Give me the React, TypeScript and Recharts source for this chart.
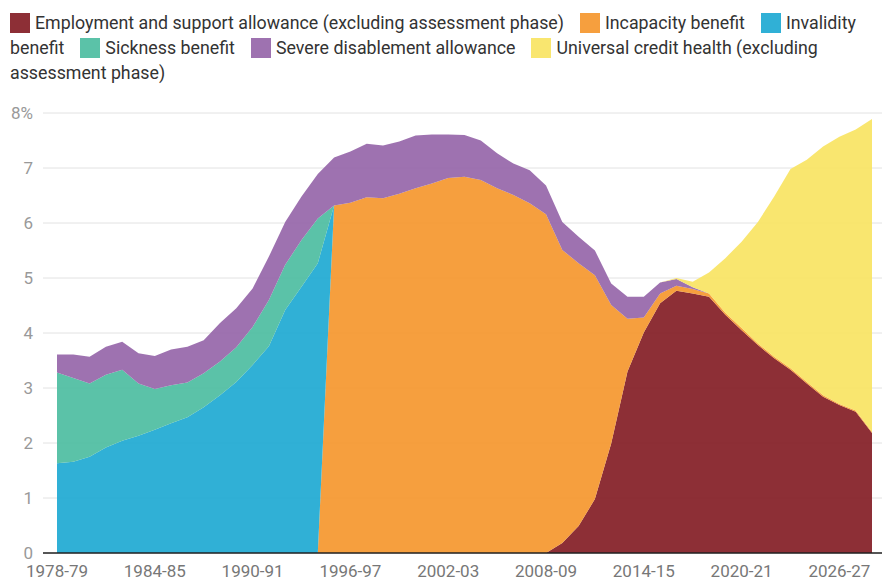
import { AreaChart, Area, XAxis, YAxis, CartesianGrid } from "recharts";

const years = [
  "1978-79", "1979-80", "1980-81", "1981-82", "1982-83", "1983-84", "1984-85", "1985-86",
  "1986-87", "1987-88", "1988-89", "1989-90", "1990-91", "1991-92", "1992-93", "1993-94",
  "1994-95", "1995-96", "1996-97", "1997-98", "1998-99", "1999-00", "2000-01", "2001-02",
  "2002-03", "2003-04", "2004-05", "2005-06", "2006-07", "2007-08", "2008-09", "2009-10",
  "2010-11", "2011-12", "2012-13", "2013-14", "2014-15", "2015-16", "2016-17", "2017-18",
  "2018-19", "2019-20", "2020-21", "2021-22", "2022-23", "2023-24", "2024-25", "2025-26",
  "2026-27", "2027-28", "2028-29",
];

const esa = [
  0, 0, 0, 0, 0, 0, 0, 0, 0, 0, 0, 0, 0, 0, 0, 0, 0, 0, 0, 0, 0, 0, 0, 0, 0, 0, 0, 0, 0, 0, 0,
  0.18, 0.49, 0.98, 1.99, 3.3, 4.01, 4.54, 4.77, 4.72, 4.66, 4.33, 4.05, 3.78, 3.54, 3.33, 3.08,
  2.84, 2.69, 2.57, 2.18,
];

const incapacity = [
  0, 0, 0, 0, 0, 0, 0, 0, 0, 0, 0, 0, 0, 0, 0, 0, 0,
  6.32, 6.37, 6.47, 6.45, 6.53, 6.63, 6.72, 6.82, 6.84, 6.78, 6.63, 6.51, 6.36, 6.16, 5.33, 4.78,
  4.07, 2.52, 0.96, 0.27, 0.18, 0.09, 0.08, 0.06, 0.04, 0.04, 0.03, 0.03, 0.03, 0.03, 0.03, 0.02,
  0.02, 0.02,
];

const invalidity = [
  1.63, 1.66, 1.75, 1.92, 2.04, 2.13, 2.24, 2.36, 2.47, 2.65, 2.87, 3.11, 3.42, 3.76, 4.42, 4.84,
  5.27, 0, 0, 0, 0, 0, 0, 0, 0, 0, 0, 0, 0, 0, 0, 0, 0, 0, 0, 0, 0, 0, 0, 0, 0, 0, 0, 0, 0, 0, 0,
  0, 0, 0, 0,
];

const sickness = [
  1.65, 1.52, 1.33, 1.32, 1.29, 0.95, 0.74, 0.69, 0.63, 0.62, 0.61, 0.63, 0.69, 0.84, 0.82, 0.85,
  0.81, 0, 0, 0, 0, 0, 0, 0, 0, 0, 0, 0, 0, 0, 0, 0, 0, 0, 0, 0, 0, 0, 0, 0, 0, 0, 0, 0, 0, 0, 0,
  0, 0, 0, 0,
];

const severe = [
  0.33, 0.43, 0.49, 0.51, 0.51, 0.55, 0.6, 0.65, 0.65, 0.6, 0.7, 0.71, 0.7, 0.79, 0.78, 0.79, 0.81,
  0.87, 0.93, 0.97, 0.96, 0.95, 0.96, 0.89, 0.79, 0.76, 0.72, 0.64, 0.57, 0.6, 0.52, 0.51, 0.48,
  0.45, 0.39, 0.4, 0.38, 0.2, 0.12, 0.03, 0, 0, 0, 0, 0, 0, 0, 0, 0, 0, 0,
];

const ucHealth = [
  0, 0, 0, 0, 0, 0, 0, 0, 0, 0, 0, 0, 0, 0, 0, 0, 0, 0, 0, 0, 0, 0, 0, 0, 0, 0, 0, 0, 0, 0, 0, 0,
  0, 0, 0, 0, 0, 0, 0.02, 0.1, 0.38, 0.99, 1.57, 2.21, 2.91, 3.62, 4.04, 4.52, 4.86, 5.11, 5.69,
];

const yTicks = [0, 1, 2, 3, 4, 5, 6, 7, 8];

const series = [
  { key: "esa", name: "Employment and support allowance (excluding assessment phase)", color: "#811820" },
  { key: "incapacity", name: "Incapacity benefit", color: "#f59529" },
  { key: "invalidity", name: "Invalidity benefit", color: "#1aa7d1" },
  { key: "sickness", name: "Sickness benefit", color: "#49bb9e" },
  { key: "severe", name: "Severe disablement allowance", color: "#9463a7" },
  { key: "ucHealth", name: "Universal credit health (excluding assessment phase)", color: "#f8e35f" },
];

const data = years.map((year, i) => ({
  year,
  esa: esa[i],
  incapacity: incapacity[i],
  invalidity: invalidity[i],
  sickness: sickness[i],
  severe: severe[i],
  ucHealth: ucHealth[i],
}));

const font = "Roboto, 'Noto Sans', sans-serif";

function Legend() {
  return (
    <div
      style={{
        position: "absolute",
        left: 10,
        top: 10,
        width: 862,
        fontFamily: font,
        fontSize: 17.8,
        lineHeight: "25px",
        color: "#333",
      }}
    >
      {series.map((s) => (
        <span key={s.key} style={{ marginRight: 16 }}>
          <span
            style={{
              display: "inline-block",
              width: 20,
              height: 20,
              background: s.color,
              opacity: 0.9,
              verticalAlign: "-4px",
              marginRight: 5,
            }}
          />
          {s.name}
        </span>
      ))}
    </div>
  );
}

export default function App() {
  return (
    <div style={{ position: "absolute", left: 0, top: 0, width: 882, height: 581, background: "#fff" }}>
      <Legend />
      <AreaChart
        width={882}
        height={581}
        data={data}
        margin={{ top: 113, right: 0, bottom: 0, left: 0 }}
        style={{ position: "absolute", left: 0, top: 0 }}
      >
        <CartesianGrid vertical={false} stroke="#e2e2e2" />
        <XAxis
          dataKey="year"
          interval={5}
          height={28}
          padding={{ left: 14, right: 10 }}
          tickLine={false}
          tickMargin={6}
          axisLine={{ stroke: "#222", strokeWidth: 1.5 }}
          tick={{ fill: "#777", fontSize: 17, fontFamily: font }}
        />
        <YAxis
          width={43}
          domain={[0, 8]}
          ticks={yTicks}
          interval={0}
          axisLine={false}
          tickLine={false}
          tickMargin={4}
          tickFormatter={(v: number) => (v === 8 ? "8%" : String(v))}
          tick={{ fill: "#999", fontSize: 17, fontFamily: font }}
        />
        {series.map((s) => (
          <Area
            key={s.key}
            type="linear"
            dataKey={s.key}
            name={s.name}
            stackId="1"
            stroke="none"
            fill={s.color}
            fillOpacity={0.9}
            isAnimationActive={false}
          />
        ))}
      </AreaChart>
    </div>
  );
}
